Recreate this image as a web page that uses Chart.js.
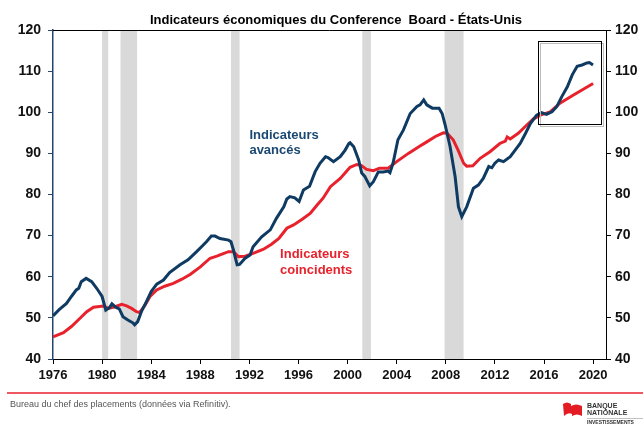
<!DOCTYPE html>
<html>
<head>
<meta charset="utf-8">
<script src="https://cdn.jsdelivr.net/npm/chart.js@4.4.1/dist/chart.umd.min.js"></script>
<style>
  body { margin: 0; background: #fff; }
  canvas { display: block; }
</style>
</head>
<body>
<canvas id="lei-chart" width="643" height="425"></canvas>
<script>
// Indicateurs avancés (leading index) - date in decimal years
var leadDates = [1976.0, 1976.5, 1977.1, 1977.5, 1977.9, 1978.1, 1978.3, 1978.7, 1979.15, 1979.56,
  1980.0, 1980.3, 1980.6, 1980.8, 1981.1, 1981.4, 1981.7, 1982.1, 1982.5, 1982.65,
  1982.9, 1983.2, 1983.6, 1984.0, 1984.45, 1985.0, 1985.5, 1986.35, 1987.0, 1987.7,
  1988.1, 1988.5, 1988.9, 1989.2, 1989.6, 1990.3, 1990.5, 1990.7, 1991.0, 1991.2,
  1991.65, 1992.05, 1992.3, 1993.0, 1993.7, 1994.2, 1994.8, 1995.05, 1995.3, 1995.7,
  1996.05, 1996.4, 1996.9, 1997.35, 1997.75, 1998.2, 1998.4, 1998.85, 1999.4, 1999.8,
  2000.1, 2000.2, 2000.5, 2000.9, 2001.15, 2001.4, 2001.8, 2002.1, 2002.5, 2002.9,
  2003.3, 2003.45, 2003.7, 2004.1, 2004.55, 2005.1, 2005.65, 2005.9, 2006.2, 2006.45,
  2006.9, 2007.45, 2007.7, 2007.95, 2008.35, 2008.76, 2009.03, 2009.3, 2009.7, 2010.25,
  2010.65, 2011.05, 2011.5, 2011.75, 2012.0, 2012.3, 2012.7, 2013.25, 2013.65, 2014.06,
  2014.5, 2014.9, 2015.4, 2015.8, 2016.2, 2016.65, 2017.05, 2017.45, 2017.9, 2018.3,
  2018.7, 2019.1, 2019.5, 2019.7, 2019.99];
var leadValues = [50.5, 52.0, 53.5, 55.2, 56.8, 57.2, 58.8, 59.6, 58.8, 57.2,
  55.2, 51.9, 52.5, 53.4, 52.6, 52.2, 50.3, 49.5, 48.8, 48.3,
  49.1, 51.5, 53.9, 56.4, 58.2, 59.2, 61.0, 62.9, 64.1, 66.1,
  67.3, 68.5, 69.9, 69.9, 69.3, 68.9, 68.5, 66.5, 62.9, 63.0,
  64.5, 65.3, 67.3, 69.7, 71.4, 74.2, 77.0, 78.9, 79.5, 79.2,
  78.3, 81.1, 82.0, 85.5, 87.6, 89.2, 89.0, 88.0, 89.2, 90.8,
  92.4, 92.6, 91.6, 88.4, 85.2, 84.4, 82.1, 83.1, 85.5, 85.5,
  85.7, 85.3, 87.6, 93.3, 95.7, 99.7, 101.4, 101.8, 103.0, 101.8,
  101.0, 101.0, 99.7, 96.9, 91.6, 84.3, 77.0, 74.6, 77.0, 81.5,
  82.3, 83.9, 86.8, 86.5, 87.6, 88.4, 88.0, 89.2, 90.8, 92.4,
  94.9, 97.3, 99.3, 99.9, 99.5, 100.1, 101.4, 103.8, 106.2, 109.1,
  111.2, 111.5, 112.0, 112.1, 111.5];

// Indicateurs coincidents
var coinDates = [1976.0, 1976.85, 1977.5, 1978.2, 1978.75, 1979.3, 1980.1, 1980.5, 1981.05, 1981.6,
  1982.0, 1982.4, 1982.8, 1983.05, 1983.5, 1983.9, 1984.45, 1985.1, 1985.8, 1986.5,
  1987.2, 1988.0, 1988.8, 1989.35, 1989.6, 1990.3, 1990.7, 1991.1, 1991.65, 1992.3,
  1993.15, 1993.8, 1994.4, 1995.05, 1995.6, 1996.3, 1996.95, 1997.5, 1998.0, 1998.6,
  1999.4, 2000.2, 2000.75, 2001.1, 2001.55, 2002.1, 2002.6, 2003.3, 2004.0, 2004.95,
  2005.8, 2006.45, 2007.15, 2007.8, 2008.1, 2008.6, 2009.0, 2009.45, 2009.7, 2010.2,
  2010.8, 2011.6, 2012.4, 2012.85, 2013.0, 2013.25, 2013.9, 2014.6, 2015.15, 2015.7,
  2016.5, 2017.3, 2018.4, 2019.2, 2020.0];
var coinValues = [45.4, 46.4, 47.9, 49.9, 51.5, 52.6, 52.9, 52.3, 52.7, 53.3,
  52.9, 52.3, 51.5, 51.3, 53.1, 55.2, 56.8, 57.7, 58.4, 59.4,
  60.6, 62.4, 64.5, 65.0, 65.3, 66.1, 66.1, 64.9, 65.0, 65.7,
  66.7, 67.9, 69.3, 71.8, 72.6, 74.0, 75.4, 77.4, 79.1, 81.9,
  83.9, 86.6, 87.3, 87.1, 86.1, 85.8, 86.4, 86.4, 88.0, 90.0,
  91.6, 92.8, 94.1, 95.0, 94.9, 93.3, 90.8, 87.6, 86.9, 87.0,
  88.8, 90.4, 92.4, 93.0, 94.0, 93.5, 94.9, 96.9, 98.4, 99.3,
  100.1, 102.2, 104.2, 105.6, 107.0];

// recessions (NBER), start/end in decimal years
var recessionStart = [1980.0, 1981.5, 1990.5, 2001.2, 2007.9];
var recessionEnd   = [1980.5, 1982.85, 1991.2, 2001.9, 2009.45];

// highlighted zone (years / index values)
var boxYears = [2015.55, 2020.65];
var boxValues = [97.1, 117.4];

var yTicksMin = 40, yTicksMax = 120, yStep = 10;
var xMin = 1976, xMax = 2021.05, xStep = 4;

var NAVY = '#0f3a62';
var RED = '#e8222c';
var FONT = "'Liberation Sans', Arial, sans-serif";

function toPoints(xs, ys) {
  return xs.map(function(x, i) { return { x: x, y: ys[i] }; });
}

var decorations = {
  id: 'decorations',
  beforeDatasetsDraw: function(chart) {
    var ctx = chart.ctx, a = chart.chartArea, xs = chart.scales.x;
    ctx.save();
    ctx.fillStyle = '#d9d9d9';
    for (var i = 0; i < recessionStart.length; i++) {
      var x0 = xs.getPixelForValue(recessionStart[i]);
      var x1 = xs.getPixelForValue(recessionEnd[i]);
      ctx.fillRect(x0, a.top, x1 - x0, a.bottom - a.top);
    }
    ctx.restore();
  },
  afterDatasetsDraw: function(chart) {
    var ctx = chart.ctx, a = chart.chartArea, xs = chart.scales.x, ys = chart.scales.y;
    ctx.save();
    // top frame line
    ctx.strokeStyle = '#000';
    ctx.lineWidth = 1;
    ctx.beginPath();
    ctx.moveTo(a.left, a.top + 0.5);
    ctx.lineTo(a.right, a.top + 0.5);
    ctx.stroke();

    // box around recent period
    var bx0 = Math.round(xs.getPixelForValue(boxYears[0])) + 0.5;
    var bx1 = Math.round(xs.getPixelForValue(boxYears[1])) + 0.5;
    var by0 = Math.round(ys.getPixelForValue(boxValues[1])) + 0.5;
    var by1 = Math.round(ys.getPixelForValue(boxValues[0])) + 0.5;
    ctx.strokeStyle = '#bdbdbd';
    ctx.strokeRect(bx0 + 2, by0 + 2, bx1 - bx0, by1 - by0);
    ctx.strokeStyle = '#000';
    ctx.strokeRect(bx0, by0, bx1 - bx0, by1 - by0);

    // series labels
    ctx.font = 'bold 13px ' + FONT;
    ctx.textBaseline = 'middle';
    ctx.textAlign = 'left';
    ctx.fillStyle = '#1b4872';
    var lx = xs.getPixelForValue(1992.0), ly = ys.getPixelForValue(94.3);
    ctx.fillText('Indicateurs', lx, ly);
    ctx.fillText('avancés', lx, ly + 15);
    ctx.fillStyle = RED;
    var cx = xs.getPixelForValue(1994.5), cy = ys.getPixelForValue(65.5);
    ctx.fillText('Indicateurs', cx, cy);
    ctx.fillText('coincidents', cx, cy + 16);
    ctx.restore();
  },
  afterDraw: function(chart) {
    var ctx = chart.ctx;
    ctx.save();
    // title
    ctx.font = 'bold 13px ' + FONT;
    ctx.fillStyle = '#000';
    ctx.textAlign = 'center';
    ctx.textBaseline = 'middle';
    ctx.fillText('Indicateurs économiques du Conference  Board - États-Unis', 336, 20);

    // footer
    ctx.strokeStyle = RED;
    ctx.lineWidth = 1.5;
    ctx.beginPath();
    ctx.moveTo(7, 393);
    ctx.lineTo(643, 393);
    ctx.stroke();
    ctx.font = '9px ' + FONT;
    ctx.fillStyle = '#555';
    ctx.textAlign = 'left';
    ctx.fillText('Bureau du chef des placements (données via Refinitiv).', 10, 405);

    // logo
    ctx.fillStyle = '#e31b23';
    ctx.beginPath();
    ctx.moveTo(563, 404);
    ctx.quadraticCurveTo(567, 401, 571, 404);
    ctx.lineTo(571, 406);
    ctx.quadraticCurveTo(576, 403, 582, 406);
    ctx.lineTo(582, 416);
    ctx.quadraticCurveTo(577, 413, 572, 416);
    ctx.lineTo(572, 414);
    ctx.quadraticCurveTo(568, 412, 564, 416);
    ctx.closePath();
    ctx.fill();
    ctx.fillStyle = '#333';
    ctx.font = 'bold 7px ' + FONT;
    ctx.fillText('BANQUE', 587, 406);
    ctx.fillText('NATIONALE', 587, 413);
    ctx.strokeStyle = '#999';
    ctx.lineWidth = 0.6;
    ctx.beginPath();
    ctx.moveTo(587, 418.5);
    ctx.lineTo(643, 418.5);
    ctx.stroke();
    ctx.font = 'bold 5px ' + FONT;
    ctx.fillText('INVESTISSEMENTS', 587, 423);
    ctx.restore();
  }
};

new Chart(document.getElementById('lei-chart'), {
  type: 'line',
  data: {
    datasets: [
      {
        label: 'Indicateurs avancés',
        data: toPoints(leadDates, leadValues),
        borderColor: NAVY,
        borderWidth: 3,
        pointRadius: 0,
        tension: 0,
        yAxisID: 'y'
      },
      {
        label: 'Indicateurs coincidents',
        data: toPoints(coinDates, coinValues),
        borderColor: RED,
        borderWidth: 3,
        pointRadius: 0,
        tension: 0,
        yAxisID: 'y'
      }
    ]
  },
  options: {
    responsive: false,
    devicePixelRatio: 1,
    animation: false,
    layout: { padding: { top: 30, left: 0, right: 0, bottom: 40 } },
    plugins: {
      legend: { display: false },
      title: { display: false },
      tooltip: { enabled: false }
    },
    scales: {
      x: {
        type: 'linear',
        min: xMin,
        max: xMax,
        afterFit: function(s) { s.height = 26; },
        border: { display: true, color: '#000', width: 1 },
        grid: { drawOnChartArea: false, drawTicks: true, tickLength: 5, color: '#000' },
        ticks: {
          stepSize: xStep,
          includeBounds: false,
          padding: 4,
          maxRotation: 0,
          autoSkip: false,
          color: '#111',
          font: { family: FONT, size: 13, weight: 'bold' },
          callback: function(v) { return String(v); }
        }
      },
      y: {
        position: 'left',
        min: yTicksMin,
        max: yTicksMax,
        afterFit: function(s) { s.width = 53; },
        border: { display: true, color: '#24466e', width: 1.5 },
        grid: { drawOnChartArea: false, drawTicks: true, tickLength: 5, color: '#24466e' },
        ticks: {
          stepSize: yStep,
          padding: 7,
          color: '#111',
          font: { family: FONT, size: 14, weight: 'bold' }
        }
      },
      y2: {
        position: 'right',
        min: yTicksMin,
        max: yTicksMax,
        afterFit: function(s) { s.width = 37; },
        border: { display: true, color: '#000', width: 1 },
        grid: { drawOnChartArea: false, drawTicks: true, tickLength: 5, color: '#000' },
        ticks: {
          stepSize: yStep,
          padding: 4,
          color: '#111',
          font: { family: FONT, size: 14, weight: 'bold' }
        }
      }
    }
  },
  plugins: [decorations]
});
</script>
</body>
</html>
